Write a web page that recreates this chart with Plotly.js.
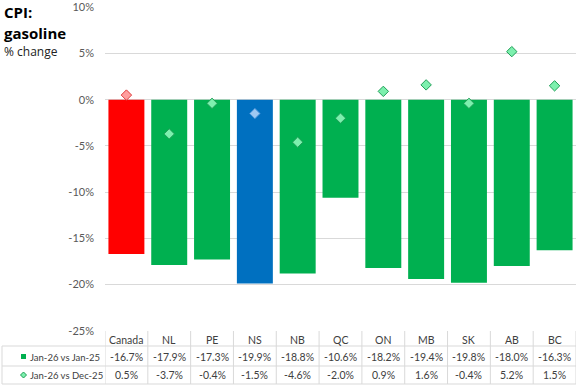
<!DOCTYPE html>
<html>
<head>
<meta charset="utf-8">
<script src="https://cdn.plot.ly/plotly-3.0.1.min.js"></script>
<style>html,body{margin:0;padding:0;background:#fff;}#chart{width:577px;height:385px;}</style>
</head>
<body>
<div id="chart"></div>
<script>
const categories = ["Canada","NL","PE","NS","NB","QC","ON","MB","SK","AB","BC"];
const yoyValues = [-16.7,-17.9,-17.3,-19.9,-18.8,-10.6,-18.2,-19.4,-19.8,-18.0,-16.3];
const momValues = [0.5,-3.7,-0.4,-1.5,-4.6,-2.0,0.9,1.6,-0.4,5.2,1.5];
const seriesNames = ["Jan-26 vs Jan-25","Jan-26 vs Dec-25"];
const tickValues = [10,5,0,-5,-10,-15,-20,-25];
const tickLabels = ["10%","5%","0%","-5%","-10%","-15%","-20%","-25%"];

const W = 577, H = 385;
const L = 105, R = 576, T = 7, B = 331;
const PW = R - L, PH = B - T;
const px2x = px => (px - L) / PW;
const py2y = py => (B - py) / PH;

const barColor = c => c === "Canada" ? "#FF0000" : (c === "NS" ? "#0070C0" : "#00B050");
const dFill = c => c === "Canada" ? "#FF9E9E" : (c === "NS" ? "#9DC8F2" : "#7DF0AE");
const dLine = c => c === "Canada" ? "#E03C3C" : (c === "NS" ? "#3E8ED6" : "#1E9E56");

const fmt = v => v.toFixed(1) + "%";
const FONT = "Lato, 'Open Sans', sans-serif";
const TXT = "#404040";
const GRID = "#D9D9D9";

const traces = [
  {
    type: "bar", x: categories, y: yoyValues, name: seriesNames[0],
    marker: {color: categories.map(barColor)}, width: 0.84, hoverinfo: "skip"
  },
  {
    type: "scatter", mode: "markers", x: categories, y: momValues, name: seriesNames[1],
    marker: {symbol: "diamond", size: 8, color: categories.map(dFill),
             line: {color: categories.map(dLine), width: 1}},
    hoverinfo: "skip"
  }
];

const annotations = [];
const shapes = [];
const rowY = [340, 357, 375];
categories.forEach((c, i) => {
  annotations.push({xref: "x", yref: "paper", x: i, y: py2y(rowY[0]), text: c, showarrow: false,
    xanchor: "center", yanchor: "middle", font: {family: FONT, size: 10.5, color: TXT}});
  annotations.push({xref: "x", yref: "paper", x: i, y: py2y(rowY[1]), text: fmt(yoyValues[i]), showarrow: false,
    xanchor: "center", yanchor: "middle", font: {family: FONT, size: 10.5, color: TXT}});
  annotations.push({xref: "x", yref: "paper", x: i, y: py2y(rowY[2]), text: fmt(momValues[i]), showarrow: false,
    xanchor: "center", yanchor: "middle", font: {family: FONT, size: 10.5, color: TXT}});
});
seriesNames.forEach((s, k) => {
  annotations.push({xref: "paper", yref: "paper", x: px2x(28), y: py2y(rowY[k + 1]), text: s, showarrow: false,
    xanchor: "left", yanchor: "middle", font: {family: FONT, size: 9.5, color: TXT}});
});
// title
const TF = "'Open Sans', sans-serif";
annotations.push({xref: "paper", yref: "paper", x: px2x(2), y: py2y(12), text: "<b>CPI:</b>",
  showarrow: false, xanchor: "left", yanchor: "middle", font: {family: TF, size: 15, color: "#000"}});
annotations.push({xref: "paper", yref: "paper", x: px2x(2), y: py2y(33), text: "<b>gasoline</b>",
  showarrow: false, xanchor: "left", yanchor: "middle", font: {family: TF, size: 15, color: "#000"}});
annotations.push({xref: "paper", yref: "paper", x: px2x(2), y: py2y(51), text: "% change",
  showarrow: false, xanchor: "left", yanchor: "middle", font: {family: TF, size: 12, color: "#222"}});

// table grid
[346, 366, 384].forEach(py => {
  shapes.push({type: "line", xref: "paper", yref: "paper", x0: px2x(2), x1: px2x(R), y0: py2y(py), y1: py2y(py),
    line: {color: GRID, width: 1}});
});
for (let i = 0; i <= categories.length; i++) {
  shapes.push({type: "line", xref: "x", yref: "paper", x0: i - 0.5, x1: i - 0.5, y0: py2y(B), y1: py2y(384),
    line: {color: GRID, width: 1}});
}
shapes.push({type: "line", xref: "paper", yref: "paper", x0: px2x(2), x1: px2x(2), y0: py2y(346), y1: py2y(384),
  line: {color: GRID, width: 1}});
// legend keys
shapes.push({type: "rect", xref: "paper", yref: "paper", x0: px2x(21), x1: px2x(26), y0: py2y(354), y1: py2y(359),
  fillcolor: "#00B050", line: {width: 0}});
const dx = 3, cx = 23.5, cy = 375;
shapes.push({type: "path", xref: "paper", yref: "paper",
  path: `M ${px2x(cx)},${py2y(cy - dx)} L ${px2x(cx + dx)},${py2y(cy)} L ${px2x(cx)},${py2y(cy + dx)} L ${px2x(cx - dx)},${py2y(cy)} Z`,
  fillcolor: "#7DF0AE", line: {color: "#1E9E56", width: 1}});

const layout = {
  width: W, height: H,
  margin: {l: L, r: W - R, t: T, b: H - B},
  paper_bgcolor: "#fff", plot_bgcolor: "#fff",
  showlegend: false,
  xaxis: {type: "category", range: [-0.5, categories.length - 0.5], showticklabels: false,
          showgrid: false, zeroline: false, showline: false, fixedrange: true},
  yaxis: {range: [-25.03, 10.03], tickvals: tickValues, ticktext: tickLabels, showgrid: true, gridcolor: GRID,
          gridwidth: 1, zeroline: false, showline: false, ticks: "", ticklabelstandoff: 10,
          tickfont: {family: FONT, size: 11, color: "#595959"}, fixedrange: true},
  annotations: annotations,
  shapes: shapes
};

Plotly.newPlot("chart", traces, layout, {displayModeBar: false, staticPlot: true});
</script>
</body>
</html>
